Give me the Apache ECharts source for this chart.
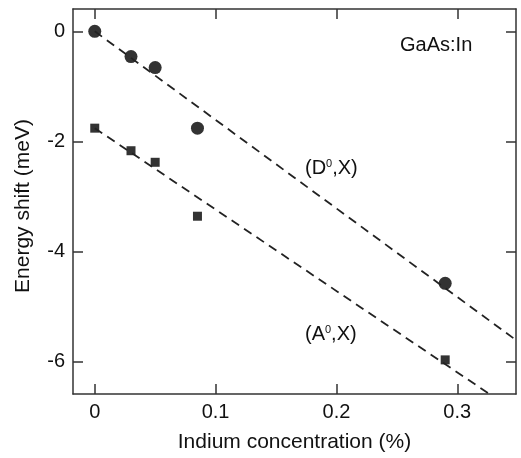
<!DOCTYPE html>
<html>
<head>
<meta charset="utf-8">
<script src="https://cdn.jsdelivr.net/npm/echarts@6/dist/echarts.min.js"></script>
<style>
html,body{margin:0;padding:0;background:#fff;}
#c{width:521px;height:458px;}
</style>
</head>
<body>
<div id="c"></div>
<script>
// Data
var concentration = [0, 0.03, 0.05, 0.085, 0.29];
var shiftD0X = [0, -0.46, -0.66, -1.76, -4.58];
var shiftA0X = [-1.76, -2.17, -2.38, -3.36, -5.97];
var fitD0X = [[0, 0], [0.3486, -5.61]];
var fitA0X = [[0, -1.76], [0.33, -6.64]];
var xTicks = [0, 0.1, 0.2, 0.3];
var yTicks = [0, -2, -4, -6];
var xRange = [-0.018, 0.3486];
var yRange = [-6.59, 0.405];

function pairs(xs, ys) { return xs.map(function (x, i) { return [x, ys[i]]; }); }

var FONT = '"Liberation Sans", Arial, Helvetica, sans-serif';
var AX = '#333';
var chart = echarts.init(document.getElementById('c'), null, {renderer: 'canvas'});

function xAx(pos, showLabel) {
  return {
    type: 'value', position: pos, min: xRange[0], max: xRange[1],
    splitLine: {show: false},
    axisLine: {show: true, onZero: false, lineStyle: {color: AX, width: 1.5}},
    axisTick: {show: true, inside: true, length: 10, customValues: xTicks, lineStyle: {color: AX, width: 1.5}},
    axisLabel: {show: showLabel, customValues: xTicks, margin: 8, color: '#111', fontSize: 20, fontFamily: FONT,
      formatter: function (v) { return String(Math.round(v * 10) / 10); }},
    name: showLabel ? 'Indium concentration (%)' : '',
    nameLocation: 'middle', nameGap: 38,
    nameTextStyle: {color: '#111', fontSize: 21, fontFamily: FONT, verticalAlign: 'top'}
  };
}
function yAx(pos, showLabel) {
  return {
    type: 'value', position: pos, min: yRange[0], max: yRange[1],
    splitLine: {show: false},
    axisLine: {show: true, onZero: false, lineStyle: {color: AX, width: 1.5}},
    axisTick: {show: true, inside: true, length: 10, customValues: yTicks, lineStyle: {color: AX, width: 1.5}},
    axisLabel: {show: showLabel, customValues: yTicks, margin: 8, color: '#111', fontSize: 20, fontFamily: FONT,
      formatter: function (v) { return String(Math.round(v)); }}
  };
}

chart.setOption({
  backgroundColor: '#fff',
  animation: false,
  grid: {left: 73, right: 5, top: 9, bottom: 62, containLabel: false},
  xAxis: [xAx('bottom', true), xAx('top', false)],
  yAxis: [yAx('left', true), yAx('right', false)],
  series: [
    {type: 'line', data: fitD0X, symbol: 'none', clip: true,
     lineStyle: {color: '#222', width: 1.8, type: [9, 6]}},
    {type: 'line', data: fitA0X, symbol: 'none', clip: true,
     lineStyle: {color: '#222', width: 1.8, type: [9, 6]}},
    {type: 'scatter', data: pairs(concentration, shiftD0X), symbol: 'circle', symbolSize: 13,
     itemStyle: {color: '#000'}},
    {type: 'scatter', data: pairs(concentration, shiftA0X), symbol: 'rect', symbolSize: 9,
     itemStyle: {color: '#000'}}
  ],
  graphic: [
    {type: 'text', x: 23, y: 206, rotation: Math.PI / 2,
     style: {text: 'Energy shift (meV)', fill: '#111', font: '21px ' + FONT, align: 'center', verticalAlign: 'middle'}},
    {type: 'text', left: 400, top: 35, style: {text: 'GaAs:In', fill: '#111', font: '20px ' + FONT}},
    {type: 'text', left: 305, top: 158, style: {text: '(D{s|0},X)', fill: '#111', font: '20px ' + FONT,
      rich: {s: {fontSize: 11, fontFamily: FONT, fill: '#111', verticalAlign: 'top', lineHeight: 20}}}},
    {type: 'text', left: 305, top: 324, style: {text: '(A{s|0},X)', fill: '#111', font: '20px ' + FONT,
      rich: {s: {fontSize: 11, fontFamily: FONT, fill: '#111', verticalAlign: 'top', lineHeight: 20}}}}
  ]
});
</script>
</body>
</html>
